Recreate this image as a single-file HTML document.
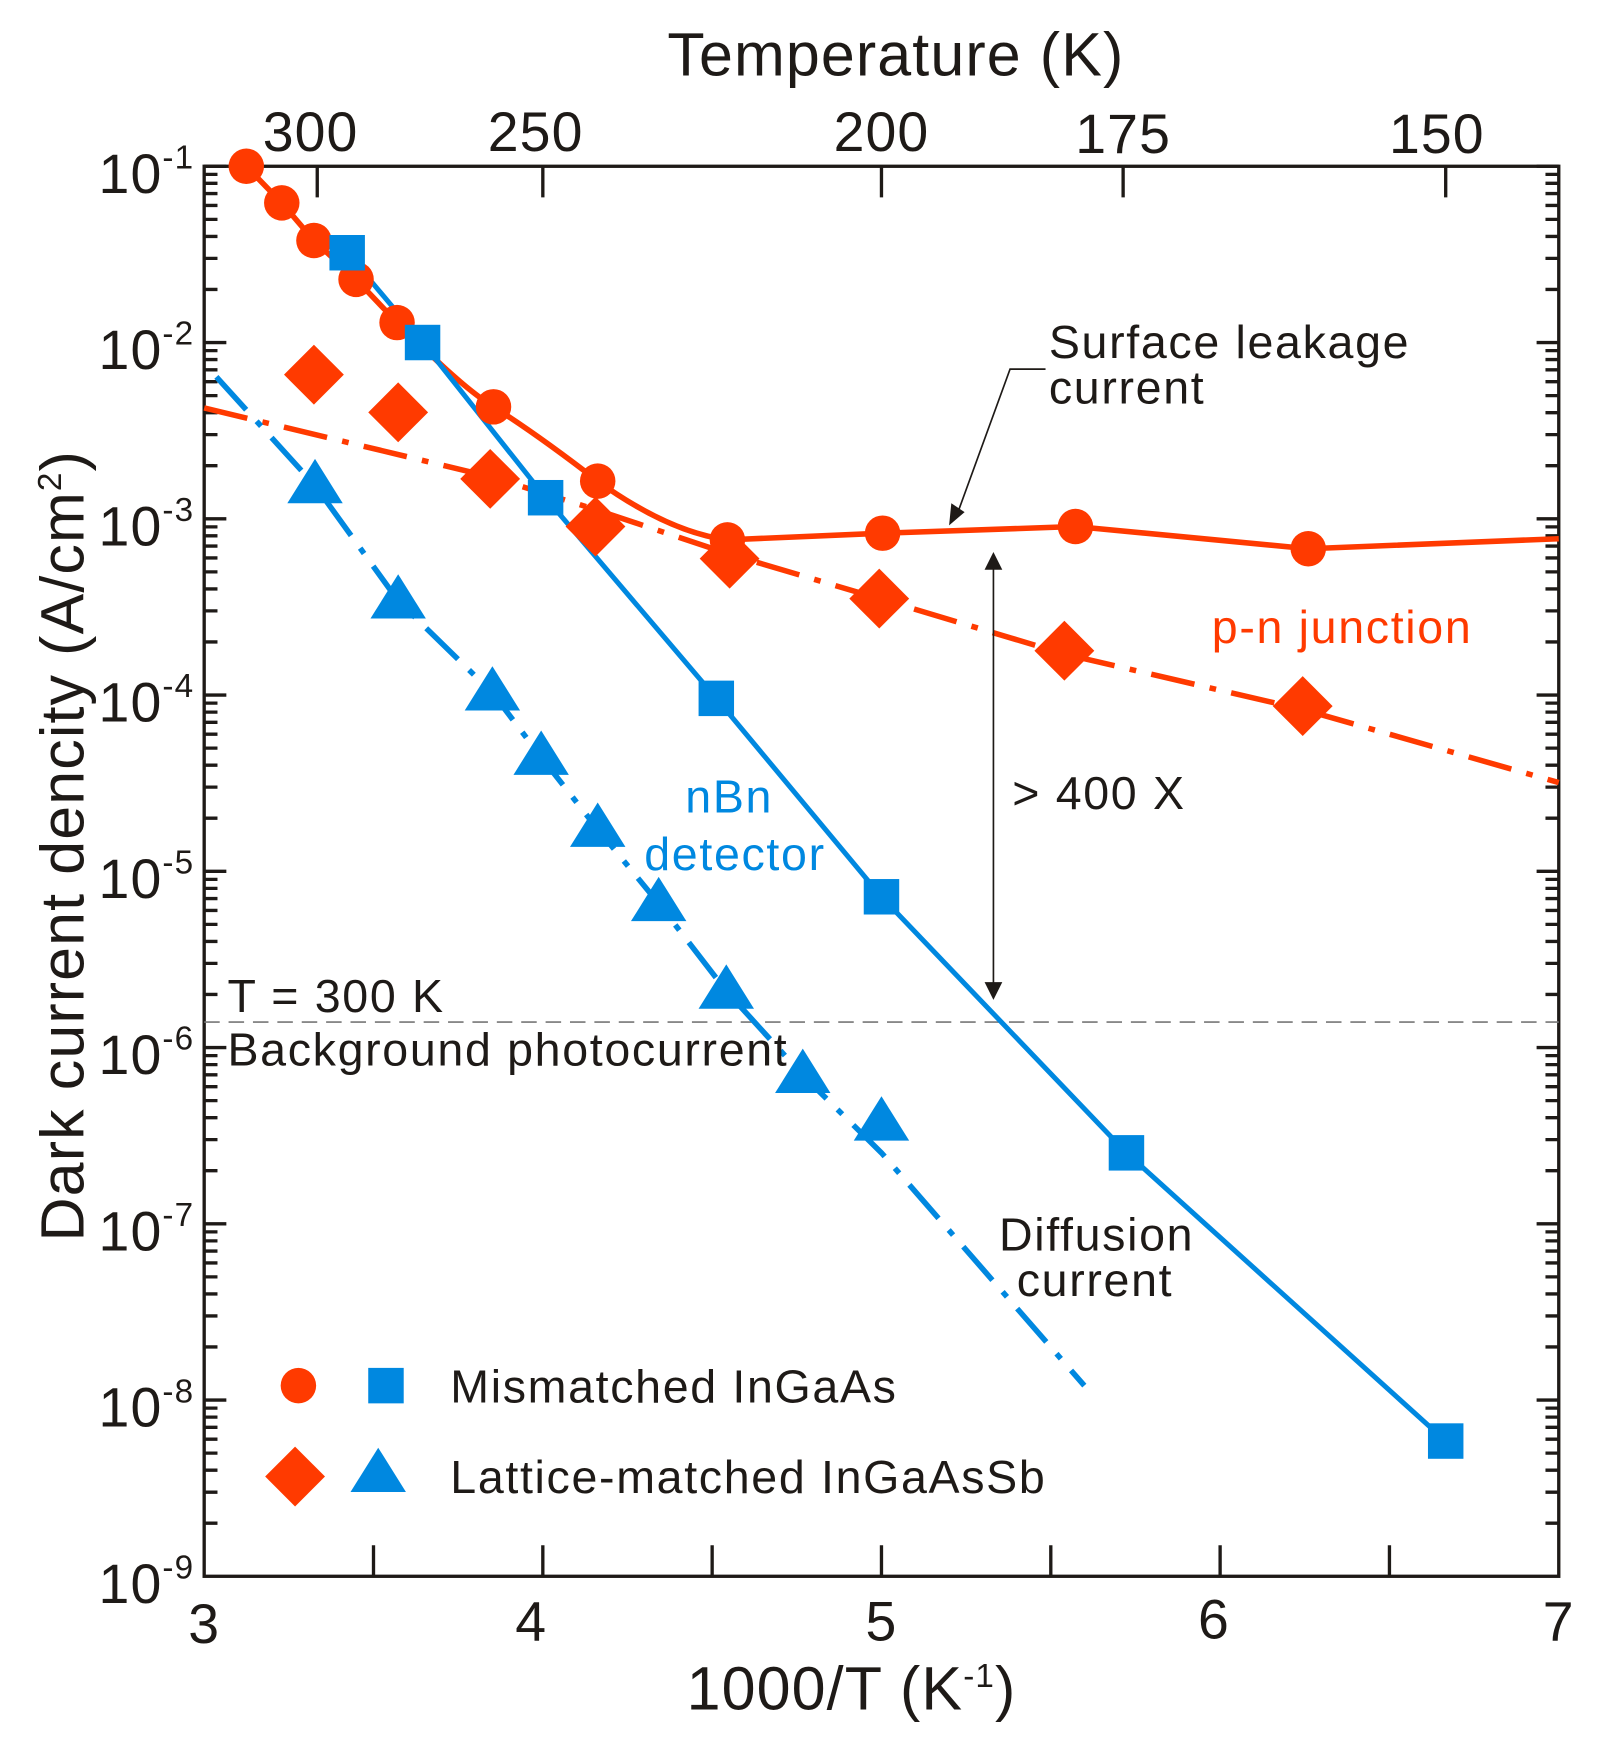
<!DOCTYPE html>
<html><head><meta charset="utf-8"><style>
html,body{margin:0;padding:0;background:#fff;}
svg{display:block;}
text{font-family:"Liberation Sans",Arial,sans-serif;fill:#1e1a17;}
</style></head><body>
<svg width="1606" height="1737" viewBox="0 0 1606 1737" xmlns="http://www.w3.org/2000/svg">
<g transform="translate(-2,0) scale(1.1085)">
<rect x="186" y="150" width="1222" height="1272" fill="none" stroke="#1e1a17" stroke-width="3"/>
<path stroke="#1e1a17" stroke-width="3" d="M186 150h20M186 309h20M186 468h20M186 627h20M186 786h20M186 945h20M186 1104h20M186 1263h20M1408 150h-20M1408 309h-20M1408 468h-20M1408 627h-20M1408 786h-20M1408 945h-20M1408 1104h-20M1408 1263h-20"/>
<path id="minor" stroke="#1e1a17" stroke-width="3" d=""/>
<path stroke="#1e1a17" stroke-width="3" d="M338.75 1422v-28M491.5 1422v-28M644.25 1422v-28M797 1422v-28M949.75 1422v-28M1102.5 1422v-28M1255.25 1422v-28"/>
<path stroke="#1e1a17" stroke-width="3" d="M288 150v28M491.5 150v28M797 150v28M1015 150v28M1306 150v28"/>

<g font-size="50" letter-spacing="1">
<text x="177" y="174" text-anchor="end">10<tspan dy="-22" font-size="30">-1</tspan></text>
<text x="177" y="333" text-anchor="end">10<tspan dy="-22" font-size="30">-2</tspan></text>
<text x="177" y="492" text-anchor="end">10<tspan dy="-22" font-size="30">-3</tspan></text>
<text x="177" y="651" text-anchor="end">10<tspan dy="-22" font-size="30">-4</tspan></text>
<text x="177" y="810" text-anchor="end">10<tspan dy="-22" font-size="30">-5</tspan></text>
<text x="177" y="969" text-anchor="end">10<tspan dy="-22" font-size="30">-6</tspan></text>
<text x="177" y="1128" text-anchor="end">10<tspan dy="-22" font-size="30">-7</tspan></text>
<text x="177" y="1287" text-anchor="end">10<tspan dy="-22" font-size="30">-8</tspan></text>
<text x="177" y="1446" text-anchor="end">10<tspan dy="-22" font-size="30">-9</tspan></text>
<text x="186" y="1482" text-anchor="middle">3</text>
<text x="481" y="1480" text-anchor="middle">4</text>
<text x="797" y="1480" text-anchor="middle">5</text>
<text x="1097" y="1478" text-anchor="middle">6</text>
<text x="1408" y="1480" text-anchor="middle">7</text>
<text x="282" y="136" text-anchor="middle">300</text>
<text x="485" y="136" text-anchor="middle">250</text>
<text x="797" y="136" text-anchor="middle">200</text>
<text x="1015" y="138" text-anchor="middle">175</text>
<text x="1298" y="138" text-anchor="middle">150</text>
</g>
<text x="810" y="68" font-size="55" letter-spacing="1" text-anchor="middle">Temperature (K)</text>
<text x="770" y="1542" font-size="55" letter-spacing="1" text-anchor="middle">1000/T (K<tspan dy="-20" font-size="30">-1</tspan><tspan dy="20">)</tspan></text>
<text transform="translate(77,763) rotate(-90)" font-size="55" letter-spacing="1" text-anchor="middle">Dark current dencity (A/cm<tspan dy="-20" font-size="30">2</tspan><tspan dy="20">)</tspan></text>

<line x1="186" y1="922" x2="1408" y2="922" stroke="#777" stroke-width="1.5" stroke-dasharray="14,8"/>

<polyline fill="none" stroke="#ff3a00" stroke-width="5" stroke-dasharray="40,14,6,14" points="186,368 444,430 540,460 660,500 795,540 962,590 1177,640 1408,706"/>
<polyline fill="none" stroke="#0088e0" stroke-width="5" stroke-dasharray="40,14,6,14" points="197,340 286,438 361,542 446,625 490,683 541,748 596,815 657,894 726,970 797,1040 980,1250"/>
<path fill="none" stroke="#ff3a00" stroke-width="5" d="M224 150L256 183L285 217L323 252L360 291C390 320 420 350 447 367C480 388 510 410 541 434C580 462 620 482 658 487L798 481L972 475L1182 495L1408 486"/>
<polyline fill="none" stroke="#0088e0" stroke-width="4.5" points="315,228 383,309 494,449 648,630 797,809 1018,1040 1306,1300"/>

<g fill="#ff3a00">
<path d="M285 311l27 27l-27 27l-27-27z"/>
<path d="M361 345l27 27l-27 27l-27-27z"/>
<path d="M444 405l27 27l-27 27l-27-27z"/>
<path d="M539 448l27 27l-27 27l-27-27z"/>
<path d="M660 477l27 27l-27 27l-27-27z"/>
<path d="M795 513l27 27l-27 27l-27-27z"/>
<path d="M962 560l27 27l-27 27l-27-27z"/>
<path d="M1177 610l27 27l-27 27l-27-27z"/>
<path d="M268 1305l27 27l-27 27l-27-27z"/>
</g>
<g fill="#ff3a00">
<circle cx="224" cy="150" r="16"/><circle cx="256" cy="183" r="16"/><circle cx="285" cy="217" r="16"/>
<circle cx="323" cy="252" r="16"/><circle cx="360" cy="291" r="16"/><circle cx="447" cy="367" r="16"/>
<circle cx="541" cy="434" r="16"/><circle cx="658" cy="487" r="16"/><circle cx="798" cy="481" r="16"/>
<circle cx="972" cy="475" r="16"/><circle cx="1182" cy="495" r="16"/><circle cx="271" cy="1250" r="16"/>
</g>
<g fill="#0088e0">
<path d="M286 414l25 40h-50z"/><path d="M361 518l25 40h-50z"/><path d="M446 601l25 40h-50z"/>
<path d="M490 659l25 40h-50z"/><path d="M541 724l25 40h-50z"/><path d="M596 791l25 40h-50z"/>
<path d="M657 870l25 40h-50z"/><path d="M726 946l25 40h-50z"/><path d="M797 989l25 40h-50z"/>
<path d="M343 1306l25 40h-50z"/>
</g>
<g fill="#0088e0">
<rect x="299" y="212" width="32" height="32"/><rect x="367" y="293" width="32" height="32"/>
<rect x="478" y="433" width="32" height="32"/><rect x="632" y="614" width="32" height="32"/>
<rect x="781" y="793" width="32" height="32"/><rect x="1002" y="1024" width="32" height="32"/>
<rect x="1290" y="1284" width="32" height="32"/><rect x="334" y="1234" width="32" height="32"/>
</g>

<g font-size="42" letter-spacing="1.5">
<text x="948" y="323">Surface leakage</text>
<text x="948" y="364">current</text>
<text x="1095" y="580" style="fill:#ff3a00">p-n junction</text>
<text x="915" y="730">&gt; 400 X</text>
<text x="620" y="733" style="fill:#0088e0">nBn</text>
<text x="583" y="785" style="fill:#0088e0">detector</text>
<text x="903" y="1128">Diffusion</text>
<text x="919" y="1169">current</text>
<text x="207" y="913">T = 300 K</text>
<text x="207" y="961">Background photocurrent</text>
<text x="408" y="1265">Mismatched InGaAs</text>
<text x="408" y="1347">Lattice-matched InGaAsSb</text>
</g>
<polyline fill="none" stroke="#1e1a17" stroke-width="1.5" points="945,333 913,333 866,462"/>
<path d="M858 474l2-20l12 8z" fill="#1e1a17"/>
<line x1="898" y1="510" x2="898" y2="890" stroke="#1e1a17" stroke-width="1.5"/>
<path d="M898 498l-8 16h16z M898 902l-8-16h16z" fill="#1e1a17"/>
</g>
<script>
(function(){var d="";for(var k=0;k<8;k++){var base=150+159*(k+1);for(var m=2;m<=9;m++){var y=base-159*Math.log10(m);d+="M186 "+y.toFixed(1)+"h12M1408 "+y.toFixed(1)+"h-12";}}document.getElementById("minor").setAttribute("d",d);})();
</script>
</svg>
</body></html>
